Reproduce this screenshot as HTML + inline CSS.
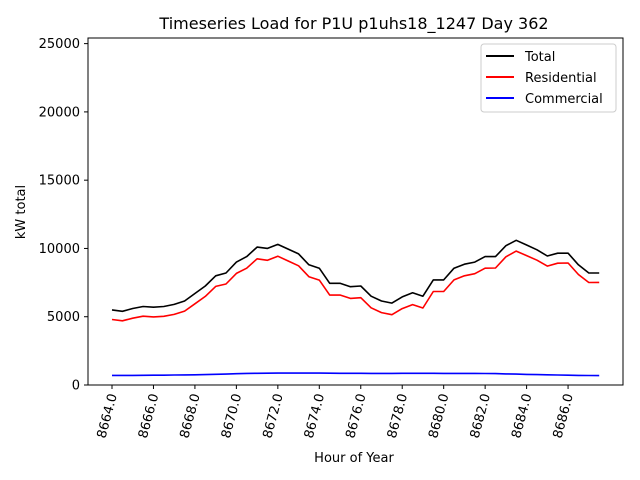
<!DOCTYPE html>
<html><head><meta charset="utf-8">
<style>
html,body{margin:0;padding:0;background:#fff;}
svg{display:block;font-family:"DejaVu Sans","Liberation Sans",sans-serif;}
</style></head>
<body>
<svg id="chart" width="640" height="480" xmlns="http://www.w3.org/2000/svg">
<text x="354" y="29" font-size="16" text-anchor="middle">Timeseries Load for P1U p1uhs18_1247  Day 362</text>
<g id="grid"></g>
<g id="series"></g>
<rect x="88" y="38" width="535" height="347" fill="none" stroke="#000" stroke-width="1"/>
<g id="axes"></g>
<text x="354" y="462" font-size="13" text-anchor="middle">Hour of Year</text>
<text transform="translate(25,212) rotate(-90)" font-size="13" text-anchor="middle">kW total</text>
<g>
<rect x="481" y="44" width="135" height="68" rx="3" fill="#fff" stroke="#ccc"/>
<line x1="486" y1="56" x2="514" y2="56" stroke="#000" stroke-width="2"/>
<text x="525" y="61" font-size="13">Total</text>
<line x1="486" y1="77" x2="514" y2="77" stroke="#f00" stroke-width="2"/>
<text x="525" y="82" font-size="13">Residential</text>
<line x1="486" y1="98" x2="514" y2="98" stroke="#00f" stroke-width="2"/>
<text x="525" y="103" font-size="13">Commercial</text>
</g>
</svg>
<script>
const hourStart = 8664;
const hourStep = 0.5;
const totalValues = [5500,5400,5600,5750,5700,5750,5900,6150,6700,7250,8000,8200,9000,9400,10100,10000,10300,9950,9600,8800,8550,7450,7450,7200,7250,6500,6150,6000,6450,6750,6500,7700,7700,8550,8850,9000,9400,9400,10200,10600,10250,9900,9450,9650,9650,8800,8200,8200];
const commercialValues = [700,700,705,710,715,720,730,740,750,760,780,800,830,850,860,865,870,870,870,870,870,865,860,860,855,850,850,850,855,860,860,855,850,850,850,850,845,835,815,795,775,760,745,730,715,705,695,685];
const xTicks = [8664,8666,8668,8670,8672,8674,8676,8678,8680,8682,8684,8686];
const yTicks = [0,5000,10000,15000,20000,25000];

const NS="http://www.w3.org/2000/svg";
const xs = h => 112 + (h-8664)*20.73;
const ys = v => 385 - v*0.013655;
function mk(tag, attrs, parent){const e=document.createElementNS(NS,tag);for(const k in attrs)e.setAttribute(k,attrs[k]);parent.appendChild(e);return e;}
const axes=document.getElementById('axes'), series=document.getElementById('series');
yTicks.forEach(v=>{
  const y=ys(v);
  const t=mk('line',{x1:84,x2:88,y1:y,y2:y,stroke:'#000'},axes);
  
  
  const l=mk('text',{x:80,y:y+4.5,'font-size':13,'text-anchor':'end'},axes);
  l.textContent=v;
  
  
});
xTicks.forEach(h=>{
  const x=xs(h);
  const t=mk('line',{x1:x,x2:x,y1:385,y2:389,stroke:'#000'},axes);
  
  
  const l=mk('text',{transform:`translate(${x+5},395) rotate(-75)`,'font-size':13,'text-anchor':'end'},axes);
  l.textContent=h.toFixed(1);
  
  
});
const residentialValues = totalValues.map((v,i)=>v-commercialValues[i]);
function line(vals,color,name){
  const d=vals.map((v,i)=>(i?'L':'M')+xs(hourStart+i*hourStep).toFixed(1)+','+ys(v).toFixed(1)).join('');
  const p=mk('path',{d:d,fill:'none',stroke:color,'stroke-width':1.6,'stroke-linejoin':'round'},series);
  
  
}
line(totalValues,'#000','total-line');
line(residentialValues,'#f00','residential-line');
line(commercialValues,'#00f','commercial-line');
</script>
</body></html>
